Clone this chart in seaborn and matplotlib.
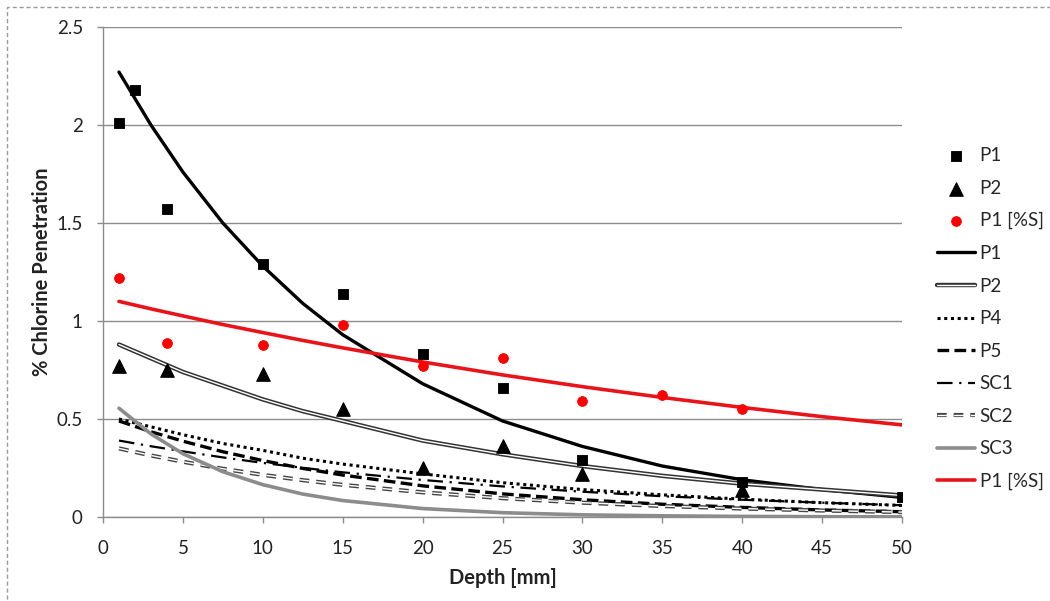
import numpy as np
import pandas as pd
import matplotlib
matplotlib.use("Agg")
import matplotlib.pyplot as plt
import matplotlib.patheffects as pe
from matplotlib.patches import Rectangle
import seaborn as sns

# ---- measured points ----
p1_x = [1, 2, 4, 10, 15, 20, 25, 30, 40, 50]
p1_y = [2.01, 2.18, 1.57, 1.29, 1.14, 0.83, 0.66, 0.29, 0.18, 0.10]
p2_x = [1, 4, 10, 15, 20, 25, 30, 40]
p2_y = [0.77, 0.75, 0.73, 0.55, 0.25, 0.36, 0.22, 0.14]
p1s_x = [1, 4, 10, 15, 20, 25, 30, 35, 40]
p1s_y = [1.22, 0.89, 0.88, 0.98, 0.77, 0.81, 0.59, 0.62, 0.55]

# ---- trend curves ----
curve_x = [1, 3, 5, 7.5, 10, 12.5, 15, 20, 25, 30, 35, 40, 45, 50]
fit_p1 = [2.27, 2.00, 1.76, 1.50, 1.28, 1.09, 0.93, 0.68, 0.49, 0.36, 0.26, 0.19, 0.14, 0.10]
fit_p2 = [0.88, 0.81, 0.74, 0.67, 0.60, 0.54, 0.49, 0.39, 0.32, 0.26, 0.21, 0.17, 0.14, 0.11]
fit_p4 = [0.50, 0.46, 0.42, 0.375, 0.34, 0.30, 0.27, 0.22, 0.175, 0.14, 0.113, 0.091, 0.073, 0.059]
fit_p5 = [0.49, 0.435, 0.387, 0.333, 0.288, 0.248, 0.214, 0.159, 0.118, 0.088, 0.065, 0.049, 0.036, 0.027]
fit_sc1 = [0.39, 0.361, 0.335, 0.304, 0.276, 0.251, 0.228, 0.189, 0.156, 0.129, 0.106, 0.088, 0.073, 0.060]
fit_sc2 = [0.35, 0.314, 0.282, 0.246, 0.215, 0.188, 0.164, 0.126, 0.096, 0.073, 0.056, 0.043, 0.033, 0.025]
fit_sc3 = [0.555, 0.424, 0.323, 0.231, 0.165, 0.117, 0.084, 0.043, 0.022, 0.011, 0.006, 0.003, 0.0015, 0.0008]
fit_p1s = [1.10, 1.062, 1.026, 0.982, 0.941, 0.901, 0.863, 0.791, 0.725, 0.665, 0.610, 0.559, 0.512, 0.470]

x_ticks = [0, 5, 10, 15, 20, 25, 30, 35, 40, 45, 50]
y_ticks = [0, 0.5, 1, 1.5, 2, 2.5]
y_tick_labels = ['0', '0.5', '1', '1.5', '2', '2.5']

sns.set_theme(style="white")
plt.rcParams['font.family'] = ['Lato', 'DejaVu Sans']

fig = plt.figure(figsize=(10.5, 6.01), dpi=100)
ax = fig.add_axes([103/1050, 1-517/601, (902-103)/1050, (517-27)/601])

# dashed chart border
fig.patches.append(Rectangle((7/1050, -0.05), 1.2, 1-7/601+0.05, transform=fig.transFigure,
                             fill=False, edgecolor='#9a9a9a', linewidth=1.0, linestyle=(0, (3, 2))))

sns.lineplot(x=curve_x, y=fit_p1, ax=ax, color='black', lw=2.4, label='P1', zorder=3)
sns.lineplot(x=curve_x, y=fit_p2, ax=ax, color='white', lw=1.0, label='P2', zorder=3,
             path_effects=[pe.Stroke(linewidth=3.2, foreground='#333333'), pe.Normal()])
sns.lineplot(x=curve_x, y=fit_p4, ax=ax, color='black', lw=2.2, label='P4', zorder=3,
             linestyle=(0, (1, 1.2)))
sns.lineplot(x=curve_x, y=fit_p5, ax=ax, color='black', lw=2.4, label='P5', zorder=3,
             linestyle=(0, (3.5, 1.6)))
sns.lineplot(x=curve_x, y=fit_sc1, ax=ax, color='black', lw=1.6, label='SC1', zorder=3,
             linestyle=(0, (7, 3, 1, 3)))
sns.lineplot(x=curve_x, y=fit_sc2, ax=ax, color='white', lw=1.0, label='SC2', zorder=3,
             linestyle=(0, (7, 5)),
             path_effects=[pe.Stroke(linewidth=3.0, foreground='#444444'), pe.Normal()])
sns.lineplot(x=curve_x, y=fit_sc3, ax=ax, color='#8c8c8c', lw=2.6, label='SC3', zorder=3)
sns.lineplot(x=curve_x, y=fit_p1s, ax=ax, color='#e8141a', lw=2.6, label='P1 [%S]', zorder=3)

sns.scatterplot(x=p1_x, y=p1_y, ax=ax, marker='s', s=62, color='black', edgecolor='black',
                label='P1', zorder=5)
sns.scatterplot(x=p2_x, y=p2_y, ax=ax, marker='^', s=95, color='black', edgecolor='black',
                label='P2', zorder=5)
sns.scatterplot(x=p1s_x, y=p1s_y, ax=ax, marker='o', s=50, color='#ff0000', edgecolor='#ff0000',
                label='P1 [%S]', zorder=5)

ax.set_xlim(0, 50)
ax.set_ylim(0, 2.5)
ax.set_xticks(x_ticks)
ax.set_yticks(y_ticks)
ax.set_xticklabels([str(v) for v in x_ticks])
ax.set_yticklabels(y_tick_labels)
ax.yaxis.grid(True, color='#8c8c8c', linewidth=1.0)
ax.xaxis.grid(False)
ax.set_axisbelow(True)
for s in ['top', 'right']:
    ax.spines[s].set_visible(False)
for s in ['left', 'bottom']:
    ax.spines[s].set_color('#8c8c8c')
    ax.spines[s].set_linewidth(1.0)
ax.tick_params(axis='both', which='major', direction='out', length=4.5, width=1,
               color='#8c8c8c', labelsize=13.5, labelcolor='#222222', bottom=True, left=True)
ax.tick_params(axis='x', pad=12)
ax.tick_params(axis='y', pad=10)

ax.set_xlabel('Depth [mm]', fontsize=14.5, fontweight='bold', color='#222222')
ax.set_ylabel('% Chlorine Penetration', fontsize=14.5, fontweight='bold', color='#222222')
ax.xaxis.set_label_coords(0.5, (517-578)/490)
ax.xaxis.label.set_verticalalignment('center')
ax.yaxis.set_label_coords((42-103)/799, 0.5)
ax.yaxis.label.set_verticalalignment('center')

handles, labels = ax.get_legend_handles_labels()
order = [8, 9, 10, 0, 1, 2, 3, 4, 5, 6, 7]
ax.legend([handles[i] for i in order], [labels[i] for i in order],
          loc='upper left', bbox_to_anchor=(937/1050, 1-147/601), bbox_transform=fig.transFigure,
          frameon=False, fontsize=13.5, labelspacing=0.83, handlelength=2.0, handletextpad=0.27,
          scatterpoints=1, borderaxespad=0, borderpad=0)

fig.savefig('out.png', dpi=100)
